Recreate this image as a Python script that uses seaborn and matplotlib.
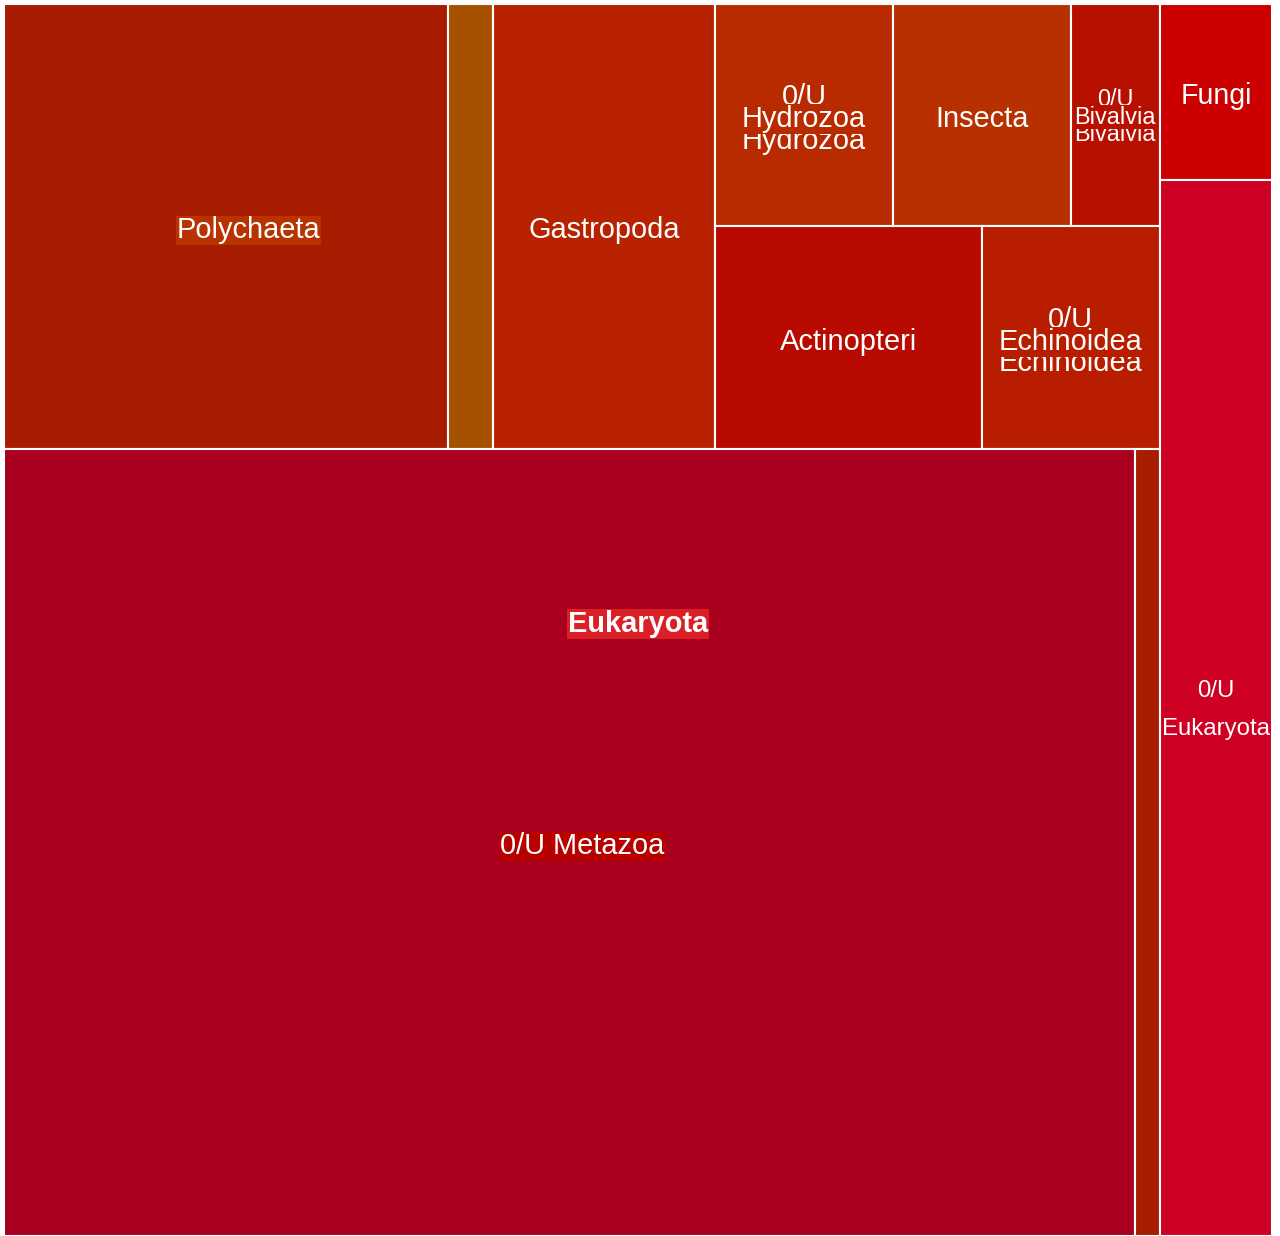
import numpy as np
import pandas as pd
import seaborn as sns
import matplotlib.pyplot as plt
from matplotlib.patches import Rectangle

# leaf cells of the treemap (counts of records)
names = ["0/U Polychaeta", "other Polychaeta", "Gastropoda", "0/U Hydrozoa", "Insecta", "0/U Bivalvia",
         "Actinopteri", "0/U Echinoidea", "0/U Metazoa", "other Metazoa", "Fungi", "0/U Eukaryota"]
counts = [10, 1, 5, 2, 2, 1, 3, 2, 45, 1, 1, 6]
cell_colors = ["#A71C00", "#A65100", "#B92200", "#B82B00", "#B83000", "#B71000",
               "#B80A00", "#B81D00", "#A8001E", "#A81C00", "#CC0000", "#CE0024"]

# how the leaves are grouped into rows / columns ("x" = side by side, "y" = stacked)
tree = ("x", [("y", [("x", [0, 1, 2, ("y", [("x", [3, 4, 5]), ("x", [6, 7])])]),
                     ("x", [8, 9])]),
              ("y", [10, 11])])

# labels: text, cells it is centred on, size in px, bold, box colour, line spacing
label_text = ["Polychaeta", "Gastropoda", "0/U\nHydrozoa", "Hydrozoa", "Insecta", "0/U\nBivalvia",
              "Bivalvia", "Actinopteri", "0/U\nEchinoidea", "Echinoidea", "0/U Metazoa",
              "Eukaryota", "Fungi", "0/U\nEukaryota"]
label_cells = [[0, 1], [2], [3], [3], [4], [5], [5], [6], [7], [7], [8], "root", [10], [11]]
label_px = [29, 29, 29, 29, 29, 23.5, 23.5, 29, 29, 29, 29, 29, 28.5, 24]
label_bold = [False] * 11 + [True, False, False]
label_box = ["#B83300", None, None, "#B82B00", None, None, "#B71000", None, None, "#B81D00",
             "#B90000", "#DA1F26", None, None]
label_spacing = [1.4, 1.4, 1.75, 1.4, 1.4, 1.65, 1.4, 1.4, 1.7, 1.4, 1.4, 1.4, 1.4, 1.9]


def total(node):
    if isinstance(node, int):
        return counts[node]
    return sum(total(c) for c in node[1])


def layout(node, x, y, w, h, out):
    if isinstance(node, int):
        out[node] = (x, y, w, h)
        return
    side, kids = node
    s = total(node)
    for k in kids:
        f = total(k) / s
        if side == "x":
            layout(k, x, y, w * f, h, out)
            x += w * f
        else:
            layout(k, x, y, w, h * f, out)
            y += h * f


W, H = 1268.0, 1232.0
rects = {}
layout(tree, 0, 0, W, H, rects)
metazoa_w = W * total(tree[1][0]) / total(tree)

sns.set_theme(style="white")
plt.rcParams["font.family"] = ["Liberation Sans", "DejaVu Sans"]

fig = plt.figure(figsize=(12.8, 12.36), dpi=100)
ax = fig.add_axes([4 / 1280, 0, W / 1280, H / 1236])
ax.set_xlim(0, W)
ax.set_ylim(H, 0)
ax.axis("off")

for i, (x, y, w, h) in rects.items():
    ax.add_patch(Rectangle((x, y), w, h, facecolor=cell_colors[i], edgecolor="white", linewidth=1.5))

for t, cells, px, b, box, ls in zip(label_text, label_cells, label_px, label_bold, label_box, label_spacing):
    if cells == "root":
        cx, cy = W / 2, H / 2
    else:
        x0 = min(rects[c][0] for c in cells)
        x1 = max(rects[c][0] + rects[c][2] for c in cells)
        y0 = min(rects[c][1] for c in cells)
        y1 = max(rects[c][1] + rects[c][3] for c in cells)
        cx, cy = (x0 + x1) / 2, (y0 + y1) / 2
        if cells == [8]:
            cx = metazoa_w / 2
    dy = 2 if px < 25 else 4
    kw = {}
    if box:
        kw["bbox"] = dict(boxstyle="square,pad=0.03", facecolor=box, edgecolor="none")
    ax.text(cx, cy + dy, t, ha="center", va="center", color="white", fontsize=px * 0.72,
            fontweight="bold" if b else "normal", linespacing=ls, **kw)

fig.savefig("out.png", dpi=100, facecolor="white")
